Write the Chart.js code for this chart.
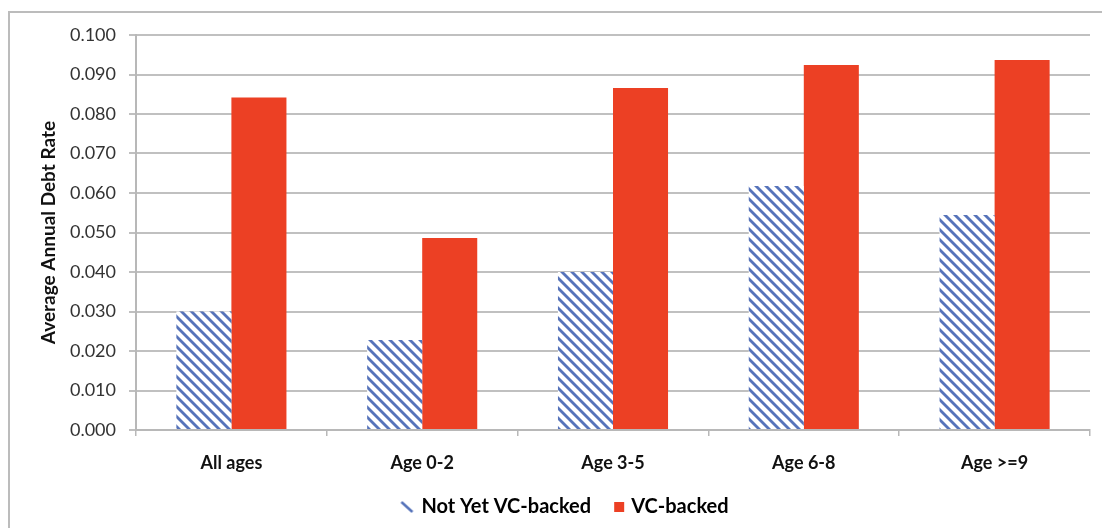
<!DOCTYPE html>
<html>
<head>
<meta charset="utf-8">
<script src="https://cdn.jsdelivr.net/npm/chart.js@4.4.1/dist/chart.umd.min.js"></script>
<style>
  html, body { margin: 0; padding: 0; background: #ffffff; }
  #wrap { position: relative; width: 1102px; height: 528px; overflow: hidden; background: #ffffff; }
  #frame { position: absolute; left: 8px; top: 11px; width: 1200px; height: 600px;
           border-left: 2px solid #bcbcbc; border-top: 2px solid #bcbcbc; }
  canvas { position: absolute; left: 0; top: 0; }
</style>
</head>
<body>
<div id="wrap">
  <div id="frame"></div>
  <canvas id="chart" width="1102" height="528"></canvas>
</div>
<script>
// Average annual debt rate by firm age group
const categories = ['All ages', 'Age 0-2', 'Age 3-5', 'Age 6-8', 'Age >=9'];
const notYetVcBacked = [0.0300, 0.0228, 0.0400, 0.0618, 0.0544];
const vcBacked = [0.0842, 0.0486, 0.0866, 0.0924, 0.0937];
const yTicks = [0, 0.01, 0.02, 0.03, 0.04, 0.05, 0.06, 0.07, 0.08, 0.09, 0.1];

const BLUE = '#5673ba';
const RED = '#ec4024';
const FONT = 'Lato, "Open Sans", "Liberation Sans", sans-serif';

// Diagonal stripe fill for the "not yet VC-backed" bars
function makeStripes() {
  const s = 10;
  const c = document.createElement('canvas');
  c.width = s; c.height = s;
  const g = c.getContext('2d');
  g.fillStyle = '#ffffff';
  g.fillRect(0, 0, s, s);
  g.strokeStyle = BLUE;
  g.lineWidth = 2.8;
  [-s, 0, s].forEach((dx) => {
    g.beginPath();
    g.moveTo(dx - 1, -1);
    g.lineTo(dx + s + 1, s + 1);
    g.stroke();
  });
  return g.createPattern(c, 'repeat');
}

// Legend markers: each drawn near the right end of a wider transparent box
const BOX_W = 32;
function dashIcon() {
  const c = document.createElement('canvas');
  c.width = BOX_W; c.height = 12;
  const g = c.getContext('2d');
  g.strokeStyle = BLUE;
  g.lineWidth = 2.5;
  g.beginPath();
  g.moveTo(BOX_W - 16, 1);
  g.lineTo(BOX_W - 5, 11);
  g.stroke();
  return c;
}
function squareIcon() {
  const c = document.createElement('canvas');
  c.width = BOX_W; c.height = 12;
  const g = c.getContext('2d');
  g.fillStyle = RED;
  g.fillRect(BOX_W - 13, 1, 10, 10);
  return c;
}

const stripes = makeStripes();
const icons = [dashIcon(), squareIcon()];

new Chart(document.getElementById('chart'), {
  type: 'bar',
  data: {
    labels: categories,
    datasets: [
      { label: 'Not Yet VC-backed', data: notYetVcBacked, backgroundColor: stripes,
        borderWidth: 0, categoryPercentage: 0.577, barPercentage: 1.0 },
      { label: 'VC-backed', data: vcBacked, backgroundColor: RED,
        borderWidth: 0, categoryPercentage: 0.577, barPercentage: 1.0 }
    ]
  },
  options: {
    responsive: false,
    animation: false,
    devicePixelRatio: 1,
    layout: { padding: { top: 35, right: 12, left: 30, bottom: 1 } },
    plugins: {
      tooltip: { enabled: false },
      legend: {
        position: 'bottom',
        labels: {
          usePointStyle: true,
          boxWidth: BOX_W,
          boxHeight: 12,
          padding: 10,
          color: '#111111',
          font: { family: FONT, size: 20, weight: 'bold' },
          generateLabels: (chart) => chart.data.datasets.map((ds, i) => ({
            text: ds.label,
            pointStyle: icons[i],
            fillStyle: 'transparent',
            strokeStyle: 'transparent',
            lineWidth: 0,
            datasetIndex: i,
            hidden: false
          }))
        }
      }
    },
    scales: {
      x: {
        offset: true,
        grid: { display: true, drawOnChartArea: false, drawTicks: true, tickLength: 6,
                color: '#b8b8b8', lineWidth: 1.5, offset: true },
        border: { display: true, color: '#b8b8b8', width: 2 },
        ticks: { color: '#111111', padding: 16, font: { family: FONT, size: 18, weight: 'bold' } },
        afterFit: (s) => { s.height = 57; }
      },
      y: {
        min: 0,
        max: 0.1,
        afterBuildTicks: (s) => { s.ticks = yTicks.map(v => ({ value: v })); },
        grid: { color: '#c0c0c0', lineWidth: 2, tickLength: 7 },
        border: { display: true, color: '#b8b8b8', width: 2 },
        ticks: { color: '#333333', padding: 13, font: { family: FONT, size: 18 },
                 callback: (v) => Number(v).toFixed(3) },
        title: { display: true, text: 'Average Annual Debt Rate', color: '#111111',
                 font: { family: FONT, size: 19, weight: 'bold' }, padding: { top: 7, bottom: 0 } },
        afterFit: (s) => { s.width = 106; }
      }
    }
  }
});
</script>
</body>
</html>
